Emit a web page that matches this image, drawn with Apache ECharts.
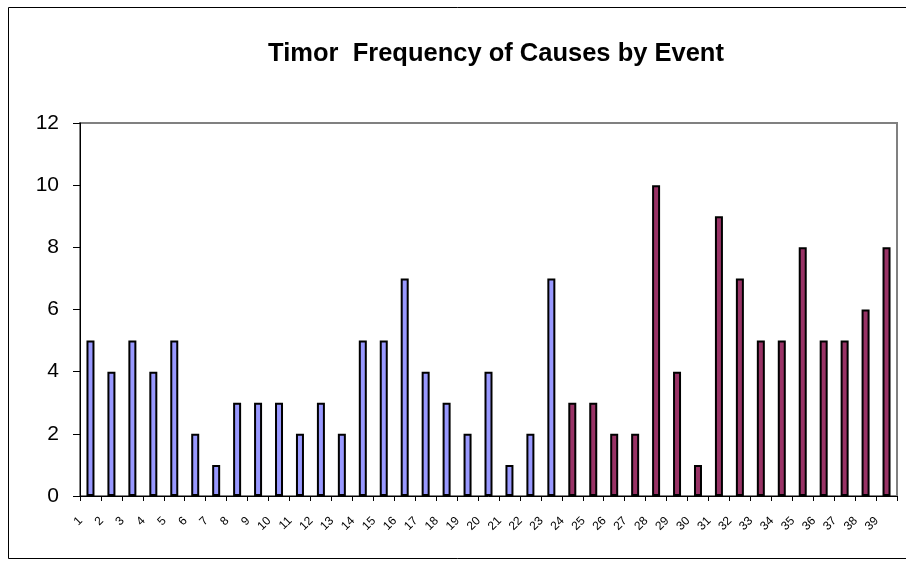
<!DOCTYPE html>
<html>
<head>
<meta charset="utf-8">
<style>
html,body{margin:0;padding:0;background:#fff;}
#chart{width:906px;height:562px;}
</style>
<script src="https://cdn.jsdelivr.net/npm/echarts@6/dist/echarts.min.js"></script>
</head>
<body>
<div id="chart"></div>
<script>
var categories = ['1','2','3','4','5','6','7','8','9','10','11','12','13','14','15','16','17','18','19','20','21','22','23','24','25','26','27','28','29','30','31','32','33','34','35','36','37','38','39'];
var blueValues = [5,4,5,4,5,2,1,3,3,3,2,3,2,5,5,7,4,3,2,4,1,2,7];
var maroonValues = [3,3,2,2,10,4,1,9,7,5,5,8,5,5,6,8];
var titleText = 'Timor  Frequency of Causes by Event';

var n = categories.length;
var blueSeries = [], maroonSeries = [];
for (var i = 0; i < n; i++) {
  if (i < blueValues.length) { blueSeries.push(blueValues[i]); maroonSeries.push('-'); }
  else { blueSeries.push('-'); maroonSeries.push(maroonValues[i - blueValues.length]); }
}

var chart = echarts.init(document.getElementById('chart'), null, {renderer:'canvas'});
var font = 'Liberation Sans, Arial, sans-serif';
chart.setOption({
  animation:false,
  backgroundColor:'#fff',
  title:{
    text:titleText, left:491, top:36, textAlign:'center',
    textStyle:{fontFamily:font, fontSize:25.5, fontWeight:'bold', color:'#000'}
  },
  graphic:[{type:'rect', shape:{x:8.5,y:7.5,width:900,height:551}, style:{fill:null, stroke:'#000', lineWidth:1}, silent:true}],
  grid:{left:80, top:123, right:9, bottom:66, show:true, borderColor:'#808080', borderWidth:2, backgroundColor:'transparent'},
  xAxis:{
    type:'category', data:categories, boundaryGap:true,
    axisLine:{lineStyle:{color:'#000', width:1}},
    axisTick:{show:true, alignWithLabel:false, length:5, lineStyle:{color:'#000'}},
    axisLabel:{rotate:45, interval:0, fontFamily:font, fontSize:12, color:'#000', margin:13, padding:[0,14,0,0]},
    splitLine:{show:false}
  },
  yAxis:{
    type:'value', min:0, max:12, interval:2,
    axisLine:{show:true, lineStyle:{color:'#000', width:1}},
    axisTick:{show:true, length:7, lineStyle:{color:'#000'}},
    axisLabel:{fontFamily:font, fontSize:21, color:'#000', margin:21},
    splitLine:{show:false}
  },
  series:[
    {type:'bar', stack:'s', data:blueSeries, barWidth:8,
     itemStyle:{color:'#9999FF', borderColor:'#000', borderWidth:2}},
    {type:'bar', stack:'s', data:maroonSeries, barWidth:8,
     itemStyle:{color:'#993366', borderColor:'#000', borderWidth:2}}
  ]
});
</script>
</body>
</html>
